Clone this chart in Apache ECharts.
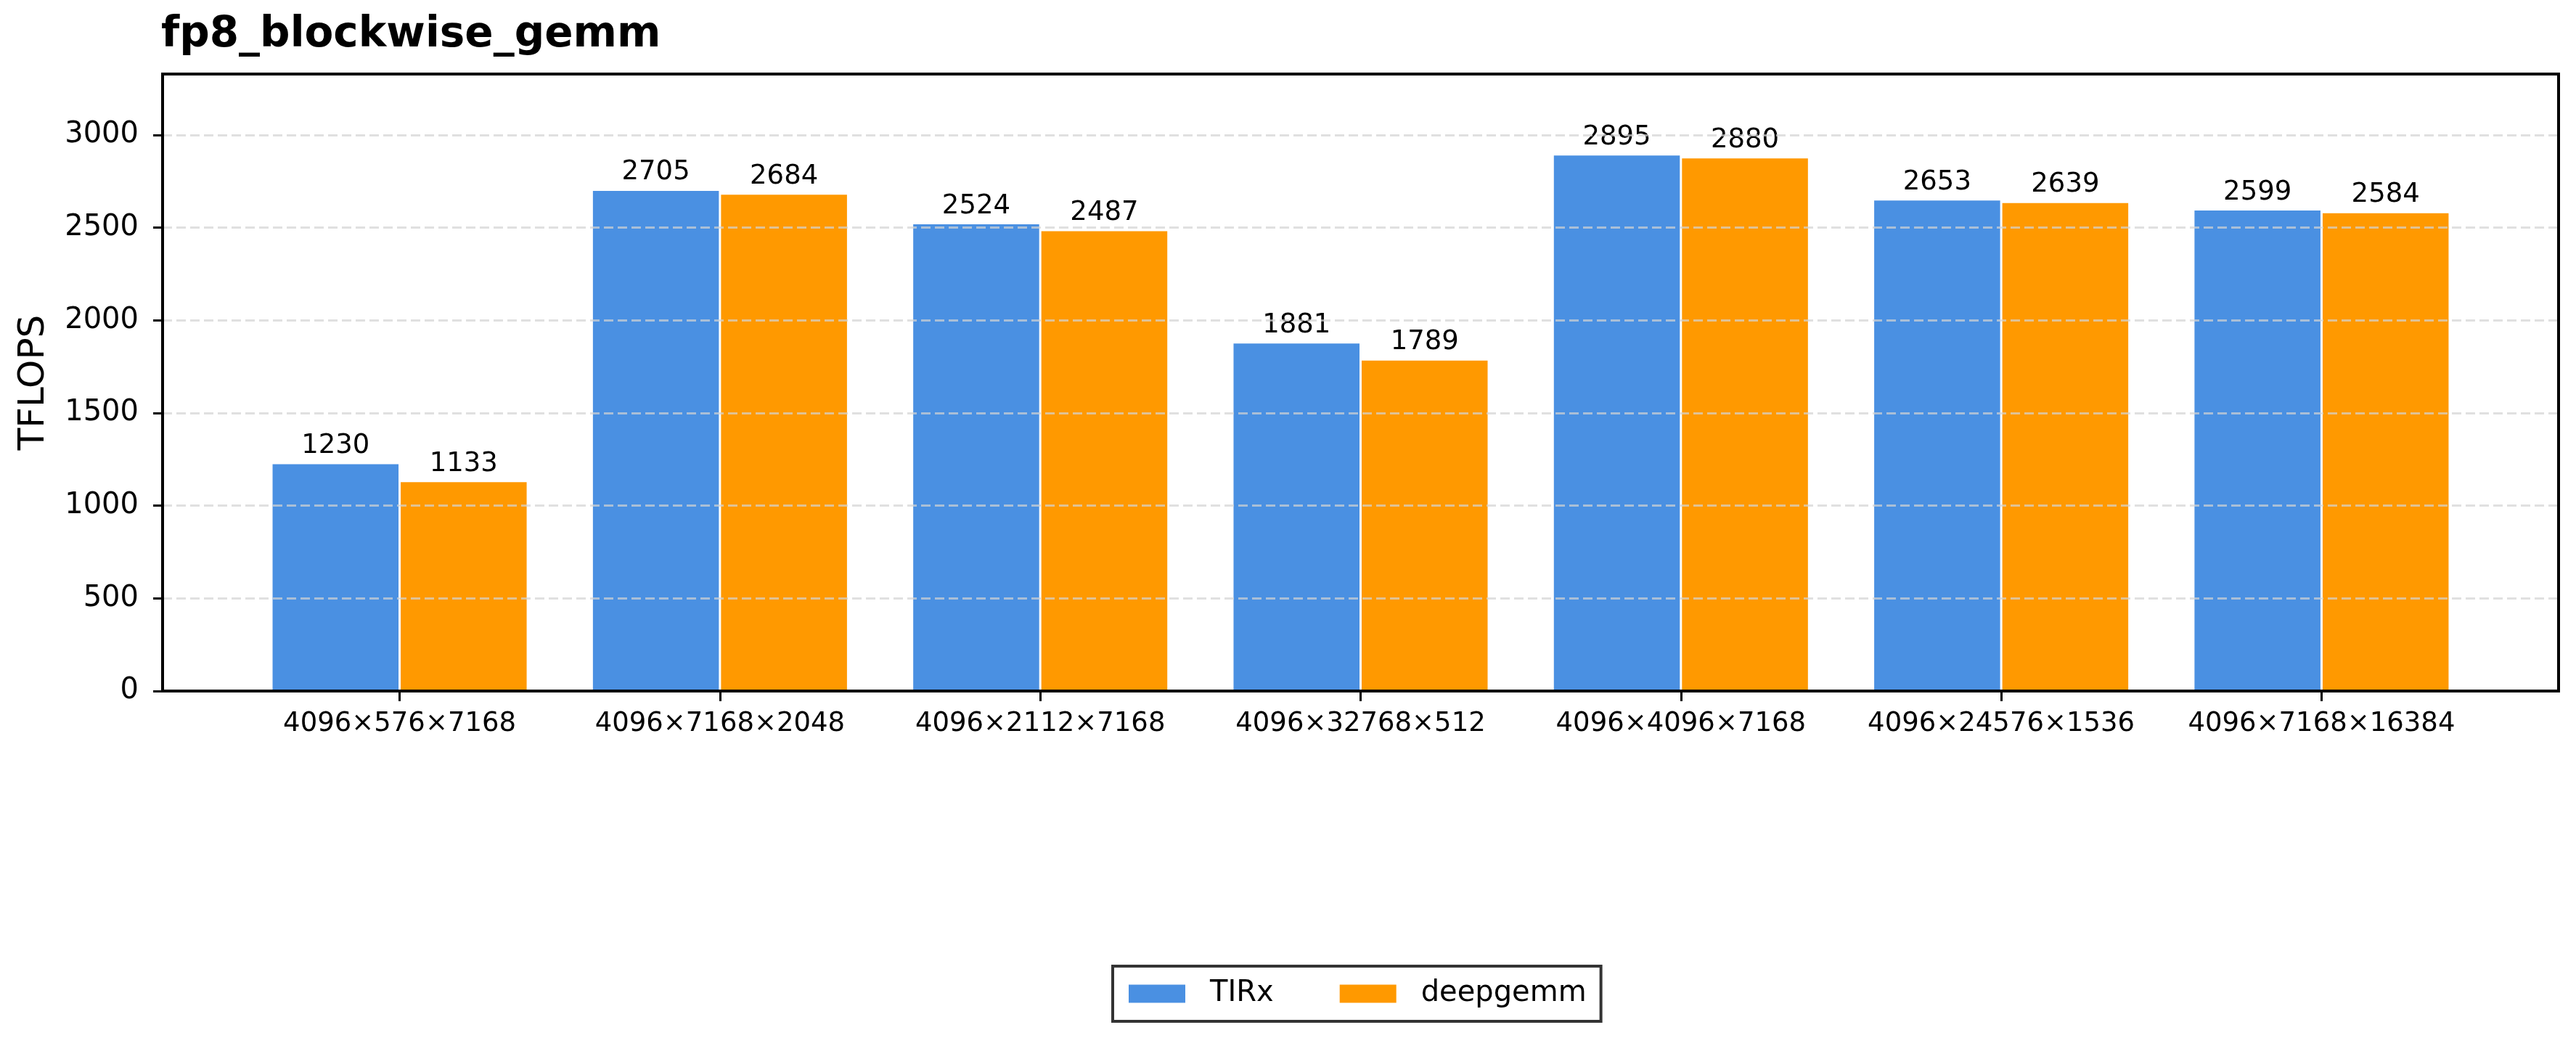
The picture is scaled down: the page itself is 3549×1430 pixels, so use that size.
<!DOCTYPE html>
<html>
<head>
<meta charset="utf-8">
<script src="https://cdn.jsdelivr.net/npm/echarts@6/dist/echarts.min.js"></script>
<style>
  html, body { margin: 0; padding: 0; background: #fff; }
  #chart { width: 3549px; height: 1430px; }
</style>
</head>
<body>
<div id="chart"></div>
<script>
// data
const categories = [
  "4096×576×7168",
  "4096×7168×2048",
  "4096×2112×7168",
  "4096×32768×512",
  "4096×4096×7168",
  "4096×24576×1536",
  "4096×7168×16384",
];
const tirx = [1230, 2705, 2524, 1881, 2895, 2653, 2599];
const deepgemm = [1133, 2684, 2487, 1789, 2880, 2639, 2584];
const yTicks = [0, 500, 1000, 1500, 2000, 2500, 3000];

const FONT = "DejaVu Sans";
const BLUE = "#4A90E2";
const ORANGE = "#FF9900";

// axes frame in px (matplotlib-like layout)
const W = 3549, H = 1430;
const axLeft = 224, axRight = 3525, axTop = 102, axBottom = 952;
// matplotlib puts bars in [-0.4, n-0.6] with 5% margins -> xlim
const n = categories.length;
const span = (n - 1) + 0.8;
const xmin = -0.4 - 0.05 * span, xmax = n - 0.6 + 0.05 * span;
const pxPerUnit = (axRight - axLeft) / (xmax - xmin);
const innerLeft = axLeft + (-0.5 - xmin) * pxPerUnit;
const innerWidth = n * pxPerUnit;

const yMax = Math.max(...tirx, ...deepgemm) * 1.15;

const option = {
  animation: false,
  backgroundColor: "#fff",
  textStyle: { fontFamily: FONT },
  title: {
    text: "fp8_blockwise_gemm",
    left: 222,
    top: 20,
    padding: 0,
    textStyle: { fontFamily: FONT, fontSize: 58, fontWeight: "bold", color: "#000" },
  },
  legend: {
    left: 1533,
    top: 1331,
    orient: "horizontal",
    padding: [18, 20],
    itemGap: 89,
    itemWidth: 80,
    itemHeight: 27,
    borderColor: "#333",
    borderWidth: 4,
    borderRadius: 0,
    icon: "rect",
    textStyle: { fontFamily: FONT, fontSize: 40, color: "#000", padding: [0, 0, 0, 28] },
    data: ["TIRx", "deepgemm"],
  },
  grid: [
    // frame grid
    {
      left: axLeft, right: W - axRight, top: axTop, bottom: H - axBottom,
      show: true, z: 10, backgroundColor: "transparent",
      borderColor: "#000", borderWidth: 4,
    },
    // bar grid, inset so category bands match the matplotlib spacing
    {
      left: innerLeft, width: innerWidth, top: axTop, bottom: H - axBottom,
    },
  ],
  xAxis: [
    { type: "value", gridIndex: 0, show: false, min: 0, max: 1 },
    {
      type: "category",
      gridIndex: 1,
      data: categories,
      axisLine: { show: false },
      axisTick: { show: true, alignWithLabel: true, interval: 0, length: 14, lineStyle: { color: "#000", width: 3 } },
      axisLabel: { interval: 0, fontFamily: FONT, fontSize: 37, color: "#000", margin: 27 },
      splitLine: { show: false },
    },
  ],
  yAxis: [
    {
      type: "value",
      gridIndex: 0,
      min: 0,
      max: yMax,
      interval: 500,
      z: 5,
      name: "TFLOPS",
      nameLocation: "middle",
      nameGap: 152,
      nameTextStyle: { fontFamily: FONT, fontSize: 50, color: "#000" },
      axisLine: { show: false },
      axisTick: { show: true, length: 13, lineStyle: { color: "#000", width: 3 }, customValues: yTicks },
      axisLabel: {
        fontFamily: FONT, fontSize: 40, color: "#000", margin: 33,
        customValues: yTicks, formatter: (v) => String(v),
      },
      splitLine: { show: true, lineStyle: { color: "rgba(211,211,211,0.7)", width: 3, type: [13, 6] } },
    },
    { type: "value", gridIndex: 1, min: 0, max: yMax, show: false, splitLine: { show: false } },
  ],
  series: [
    {
      name: "TIRx",
      type: "bar",
      xAxisIndex: 1,
      yAxisIndex: 1,
      data: tirx,
      barWidth: "40%",
      barGap: "0%",
      itemStyle: { color: BLUE, borderColor: "#fff", borderWidth: 1.5 },
      label: { show: true, position: "top", distance: 5, fontFamily: FONT, fontSize: 37, color: "#000" },
    },
    {
      name: "deepgemm",
      type: "bar",
      xAxisIndex: 1,
      yAxisIndex: 1,
      data: deepgemm,
      barWidth: "40%",
      barGap: "0%",
      itemStyle: { color: ORANGE, borderColor: "#fff", borderWidth: 1.5 },
      label: { show: true, position: "top", distance: 5, fontFamily: FONT, fontSize: 37, color: "#000" },
    },
  ],
};

const chart = echarts.init(document.getElementById("chart"));
chart.setOption(option);
</script>
</body>
</html>
